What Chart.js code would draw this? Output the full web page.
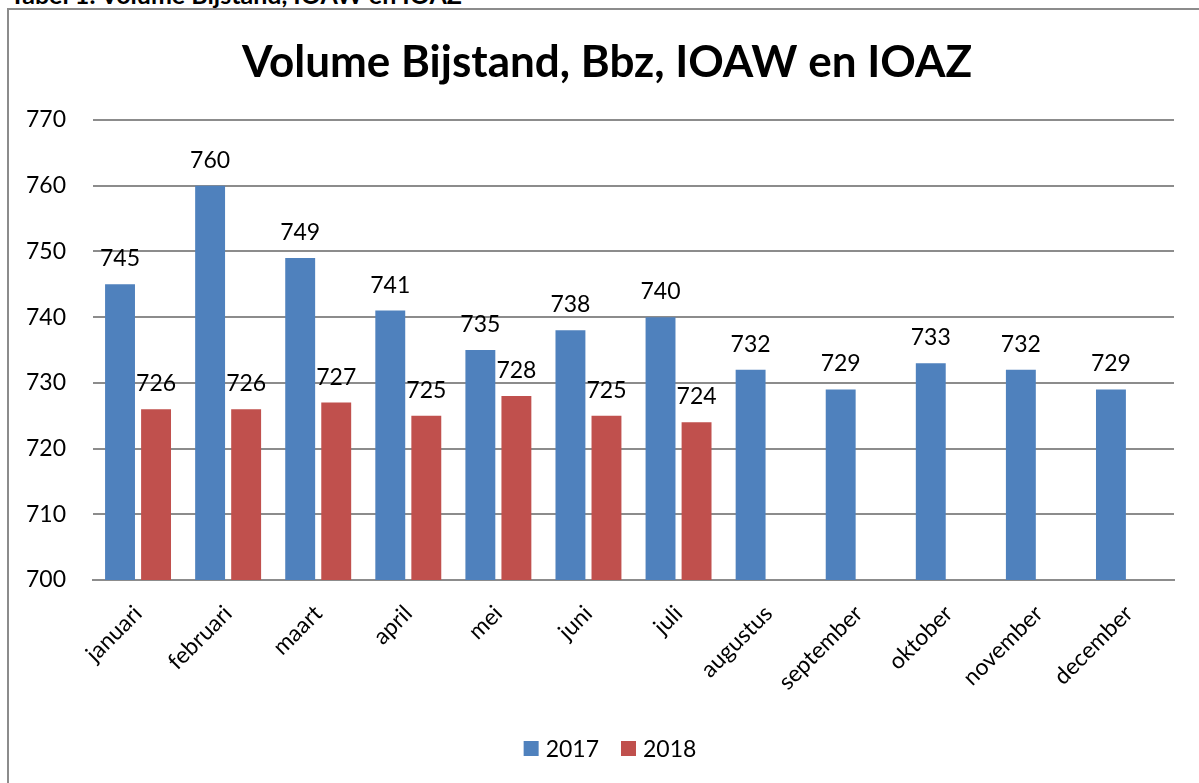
<!DOCTYPE html>
<html lang="nl">
<head>
    <meta charset="UTF-8">
    <title>Volume Bijstand, Bbz, IOAW en IOAZ</title>
    <script src="https://cdn.jsdelivr.net/npm/chart.js"></script>
    <style>
        html, body {
            margin: 0;
            padding: 0;
            background: #fff;
            overflow: hidden;
            font-family: Lato, sans-serif;
        }
        .caption {
            position: absolute;
            left: 10px;
            top: -17px;
            font-size: 25px;
            line-height: 22px;
            font-weight: bold;
            color: #000;
            white-space: nowrap;
        }
        .frame {
            position: absolute;
            left: 7px;
            top: 8px;
            width: 1300px;
            height: 900px;
            border: 2px solid #8c8c8c;
            box-sizing: border-box;
        }
        .wrap {
            position: absolute;
            left: 0;
            top: 0;
            width: 1199px;
            height: 783px;
        }
    </style>
</head>
<body>
    <div class="caption">Tabel 1: Volume Bijstand, IOAW en IOAZ</div>
    <div class="frame"></div>
    <div class="wrap"><canvas id="volumeChart"></canvas></div>

    <script>
        const months = ['januari', 'februari', 'maart', 'april', 'mei', 'juni', 'juli',
            'augustus', 'september', 'oktober', 'november', 'december'];
        const volume2017 = [745, 760, 749, 741, 735, 738, 740, 732, 729, 733, 732, 729];
        const volume2018 = [726, 726, 727, 725, 728, 725, 724, null, null, null, null, null];
        const yTicks = [700, 710, 720, 730, 740, 750, 760, 770];
        const chartTitle = 'Volume Bijstand, Bbz, IOAW en IOAZ';

        const gridGray = '#8c8c8c';

        // waarde boven elke staaf
        const valueLabels = {
            id: 'valueLabels',
            afterDatasetsDraw(chart) {
                const ctx = chart.ctx;
                ctx.save();
                ctx.font = '23px Lato';
                ctx.fillStyle = '#000';
                ctx.textAlign = 'center';
                ctx.textBaseline = 'alphabetic';
                chart.data.datasets.forEach((ds, i) => {
                    chart.getDatasetMeta(i).data.forEach((bar, j) => {
                        if (ds.data[j] == null) return;
                        ctx.fillText(ds.data[j], bar.x, bar.y - 18);
                    });
                });
                ctx.restore();
            }
        };

        // titel en legenda op vaste plek (iets rechts van het midden, zoals in Excel)
        const titleAndLegend = {
            id: 'titleAndLegend',
            afterDraw(chart) {
                const ctx = chart.ctx;
                ctx.save();
                ctx.fillStyle = '#000';
                ctx.font = 'bold 44px Lato';
                ctx.textAlign = 'center';
                ctx.textBaseline = 'alphabetic';
                ctx.fillText(chartTitle, 607, 77);

                ctx.font = '23px Lato';
                ctx.textAlign = 'left';
                const box = 15, gap = 7, itemGap = 22;
                const items = chart.data.datasets.map(ds => ({
                    label: ds.label, color: ds.backgroundColor,
                    w: box + gap + ctx.measureText(ds.label).width
                }));
                const total = items.reduce((s, it) => s + it.w, 0) + itemGap * (items.length - 1);
                let x = 610 - total / 2;
                items.forEach(it => {
                    ctx.fillStyle = it.color;
                    ctx.fillRect(x, 741, box, box);
                    ctx.fillStyle = '#000';
                    ctx.fillText(it.label, x + box + gap, 757);
                    x += it.w + itemGap;
                });
                ctx.restore();
            }
        };

        new Chart(document.getElementById('volumeChart'), {
            type: 'bar',
            data: {
                labels: months,
                datasets: [{
                    label: '2017',
                    data: volume2017,
                    backgroundColor: '#4f81bd',
                    categoryPercentage: 0.8,
                    barPercentage: 0.83
                },
                {
                    label: '2018',
                    data: volume2018,
                    backgroundColor: '#c0504d',
                    categoryPercentage: 0.8,
                    barPercentage: 0.83
                }]
            },
            options: {
                responsive: true,
                maintainAspectRatio: false,
                animation: false,
                layout: {
                    padding: { top: 120, right: 25, bottom: 60, left: 9 }
                },
                plugins: {
                    title: { display: false },
                    legend: { display: false },
                    tooltip: { enabled: false }
                },
                scales: {
                    x: {
                        grid: { display: false },
                        border: { display: true, color: gridGray, width: 2 },
                        ticks: {
                            color: '#000',
                            font: { family: 'Lato', size: 23 },
                            minRotation: 45,
                            maxRotation: 45,
                            padding: 12
                        },
                        afterFit(scale) { scale.height = 143; }
                    },
                    y: {
                        min: 700,
                        max: 770,
                        afterBuildTicks(scale) {
                            scale.ticks = yTicks.map(v => ({ value: v }));
                        },
                        grid: { color: gridGray, lineWidth: 2, drawTicks: false },
                        border: { display: false },
                        ticks: {
                            color: '#000',
                            font: { family: 'Lato', size: 23 },
                            padding: 27
                        },
                        afterFit(scale) { scale.width = 84; }
                    }
                }
            },
            plugins: [valueLabels, titleAndLegend]
        });
    </script>
</body>
</html>
